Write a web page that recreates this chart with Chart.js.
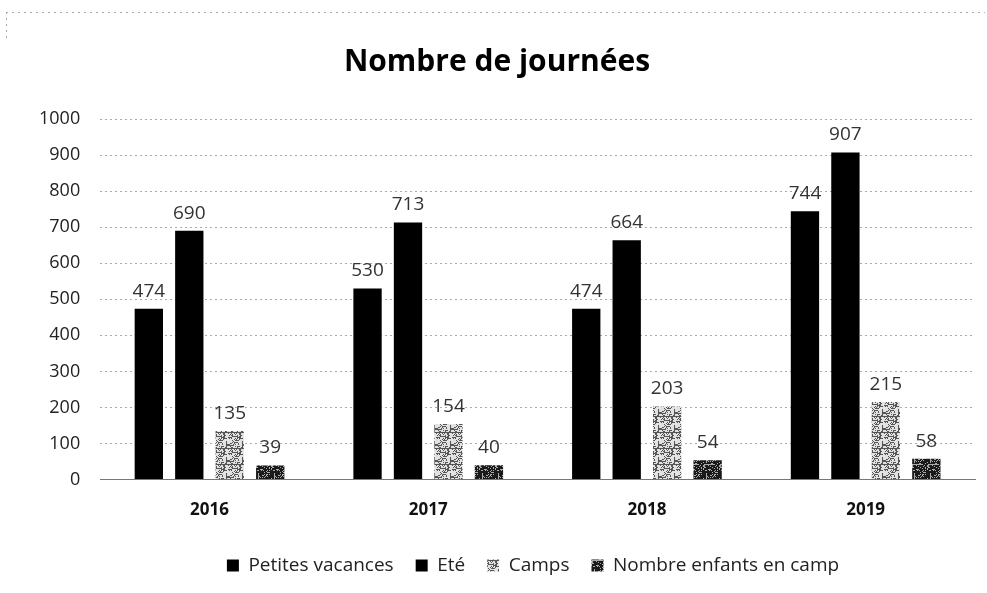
<!DOCTYPE html>
<html>
<head>
<meta charset="utf-8">
<script src="https://cdn.jsdelivr.net/npm/chart.js@4"></script>
<style>
  html, body { margin: 0; padding: 0; background: #fff; }
  #wrap { width: 987px; height: 593px; }
</style>
</head>
<body>
<div id="wrap"><canvas id="myChart"></canvas></div>
<script>
// data
var years = ['2016', '2017', '2018', '2019'];
var petitesVacances = [474, 530, 474, 744];
var ete = [690, 713, 664, 907];
var camps = [135, 154, 203, 215];
var enfantsCamp = [39, 40, 54, 58];
var yTicks = [0, 100, 200, 300, 400, 500, 600, 700, 800, 900, 1000];

var FONT = '"Open Sans", "Liberation Sans", sans-serif';

// speckled tiles for the grey bars (scan look), fixed hash so it is the same every run
function makePattern(bg, dot, dens) {
  var c = document.createElement('canvas');
  c.width = 16; c.height = 16;
  var ctx = c.getContext('2d');
  ctx.fillStyle = bg;
  ctx.fillRect(0, 0, 16, 16);
  ctx.fillStyle = dot;
  for (var y = 0; y < 16; y++) {
    for (var x = 0; x < 16; x++) {
      var h = (x * 73856093 ^ y * 19349663) % 97;
      if (h < dens) ctx.fillRect(x, y, 1, 1);
    }
  }
  return ctx.createPattern(c, 'repeat');
}
var campsFill = makePattern('#e2e2e2', '#555', 38);
var enfantsFill = makePattern('#1a1a1a', '#aaa', 22);

// values written above bars
var valueLabels = {
  id: 'valueLabels',
  afterDatasetsDraw: function(chart) {
    var ctx = chart.ctx;
    ctx.save();
    ctx.font = '19px ' + FONT;
    ctx.fillStyle = '#333';
    ctx.textAlign = 'center';
    ctx.textBaseline = 'bottom';
    chart.data.datasets.forEach(function(ds, i) {
      chart.getDatasetMeta(i).data.forEach(function(bar, j) {
        ctx.fillText(ds.data[j], bar.x, bar.y - 8);
      });
    });
    ctx.restore();
  }
};

// faint dotted frame like the scanned one
var frame = {
  id: 'frame',
  beforeDraw: function(chart) {
    var ctx = chart.ctx;
    ctx.save();
    ctx.strokeStyle = '#aaa';
    ctx.setLineDash([2, 4]);
    ctx.lineWidth = 1;
    ctx.beginPath();
    ctx.moveTo(6, 12.5); ctx.lineTo(985, 12.5);
    ctx.moveTo(6.5, 12); ctx.lineTo(6.5, 40);
    ctx.stroke();
    ctx.restore();
  }
};

// the legend in the picture sits a bit right of centre
var legendShift = {
  id: 'legendShift',
  afterLayout: function(chart) {
    chart.legend.left += 36;
    chart.legend.right += 36;
  }
};

new Chart(document.getElementById('myChart'), {
  type: 'bar',
  data: {
    labels: years,
    datasets: [
      { label: 'Petites vacances', data: petitesVacances, backgroundColor: '#000' },
      { label: 'Eté', data: ete, backgroundColor: '#000' },
      { label: 'Camps', data: camps, backgroundColor: campsFill },
      { label: 'Nombre enfants en camp', data: enfantsCamp, backgroundColor: enfantsFill }
    ]
  },
  options: {
    responsive: true,
    maintainAspectRatio: false,
    animation: false,
    devicePixelRatio: 1,
    layout: { padding: { top: 20, right: 12, left: 19, bottom: 8 } },
    datasets: { bar: { categoryPercentage: 0.74, barPercentage: 0.7 } },
    plugins: {
      title: {
        display: true,
        text: 'Nombre de journées',
        color: '#000',
        font: { family: FONT, size: 30, weight: 'bold' },
        padding: { top: 24, bottom: 39 }
      },
      legend: {
        position: 'bottom',
        labels: {
          color: '#222',
          boxWidth: 12,
          boxHeight: 12,
          padding: 22,
          font: { family: FONT, size: 19 }
        }
      },
      tooltip: { enabled: false }
    },
    scales: {
      x: {
        grid: { display: false },
        border: { color: '#777', dash: [2, 2] },
        afterFit: function(scale) { scale.height += 2; },
        ticks: {
          color: '#111',
          padding: 12,
          font: { family: FONT, size: 17, weight: 'bold' }
        }
      },
      y: {
        min: 0,
        max: 1000,
        afterBuildTicks: function(axis) {
          axis.ticks = yTicks.map(function(v) { return { value: v }; });
        },
        grid: { color: '#aaa', drawTicks: false },
        border: { display: false, dash: [2, 3] },
        ticks: {
          color: '#222',
          padding: 20,
          callback: function(v) { return String(v); },
          font: { family: FONT, size: 18 }
        }
      }
    }
  },
  plugins: [valueLabels, frame, legendShift]
});
</script>
</body>
</html>
